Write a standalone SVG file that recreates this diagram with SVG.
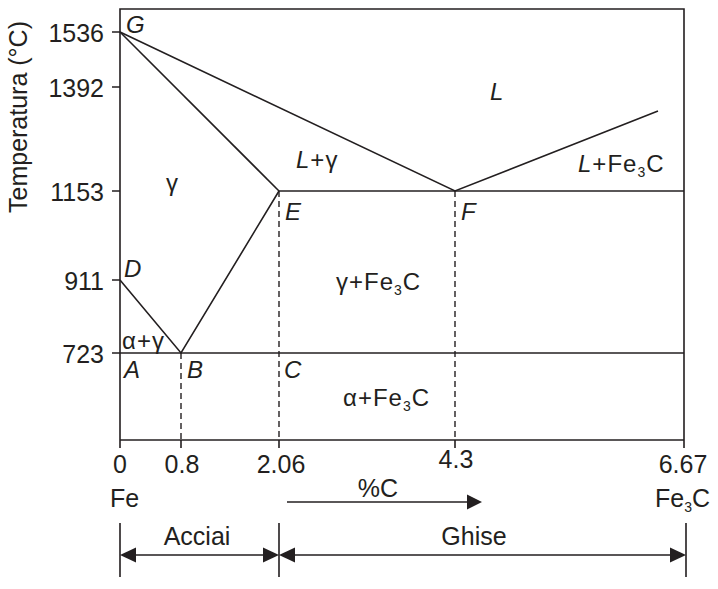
<svg xmlns="http://www.w3.org/2000/svg" width="718" height="589" viewBox="0 0 718 589">
<style>
.ln{stroke:#231f20;stroke-width:1.6;fill:none}
.ds{stroke:#231f20;stroke-width:1.4;fill:none;stroke-dasharray:6 4}
.t{font-family:"Liberation Sans",Arial,sans-serif;font-size:25px;fill:#231f20}
.r{font-family:"Liberation Sans",Arial,sans-serif;font-size:24px;fill:#231f20;letter-spacing:1px}
.i{font-style:italic}
.s{font-size:14px}
.ah{fill:#231f20}
</style>
<rect width="718" height="589" fill="#fff"/>
<g id="frame">
<path class="ln" d="M120,448 V9 H684 V448"/>
<path class="ln" d="M120,440 H684"/>
<path class="ln" d="M112,32 H120 M112,87 H120 M112,191 H120 M112,280 H120 M112,353 H120"/>
<path class="ln" d="M181,440 V448 M279,440 V448 M455,440 V448"/>
</g>
<g id="phase-lines">
<path class="ln" d="M120,32 L455,191 L658,111"/>
<path class="ln" d="M120,32 L279,191"/>
<path class="ln" d="M120,280 L181,353 L279,191"/>
<path class="ln" d="M279,191 H684"/>
<path class="ln" d="M120,353 H684"/>
<path class="ds" d="M181,353 V440 M279,191 V440 M455,191 V440"/>
</g>
<g id="y-axis">
<text class="t" x="18" y="117" text-anchor="middle" transform="rotate(-90 18 117)" dy="9" font-size="26">Temperatura (°C)</text>
<text class="t" x="104" y="42" text-anchor="end">1536</text>
<text class="t" x="104" y="97" text-anchor="end">1392</text>
<text class="t" x="104" y="201" text-anchor="end">1153</text>
<text class="t" x="104" y="290" text-anchor="end">911</text>
<text class="t" x="104" y="363" text-anchor="end">723</text>
</g>
<g id="x-axis">
<text class="t" x="120" y="473" text-anchor="middle">0</text>
<text class="t" x="182" y="473" text-anchor="middle">0.8</text>
<text class="t" x="281" y="473" text-anchor="middle">2.06</text>
<text class="t" x="456" y="468" text-anchor="middle">4.3</text>
<text class="t" x="683" y="473" text-anchor="middle">6.67</text>
<text class="t" x="110" y="507">Fe</text>
<text class="t" x="655" y="507">Fe<tspan class="s" dy="5">3</tspan><tspan dy="-5">C</tspan></text>
<text class="t" x="378" y="497" text-anchor="middle">%C</text>
</g>
<g id="points">
<text class="r i" x="126" y="33">G</text>
<text class="r i" x="285" y="220">E</text>
<text class="r i" x="461" y="220">F</text>
<text class="r i" x="124" y="277">D</text>
<text class="r i" x="124" y="378">A</text>
<text class="r i" x="187" y="378">B</text>
<text class="r i" x="284" y="378">C</text>
</g>
<g id="regions">
<text class="r i" x="490" y="100">L</text>
<text class="r" x="296" y="168"><tspan class="i">L</tspan>+γ</text>
<text class="r" x="166" y="191">γ</text>
<text class="r" x="578" y="172"><tspan class="i">L</tspan>+Fe<tspan class="s" dy="5">3</tspan><tspan dy="-5">C</tspan></text>
<text class="r" x="336" y="290">γ+Fe<tspan class="s" dy="5">3</tspan><tspan dy="-5">C</tspan></text>
<text class="r" x="343" y="406">α+Fe<tspan class="s" dy="5">3</tspan><tspan dy="-5">C</tspan></text>
<text class="r" x="122" y="349" font-size="23">α+γ</text>
</g>
<g id="connectors">
<path class="ln" d="M287,502 H468"/>
<path class="ah" d="M482,502 L467,494.5 L467,509.5 Z"/>
<path class="ln" d="M120,523 V577 M279,523 V577 M686,523 V577"/>
<path class="ln" d="M134,555 H265 M293,555 H672"/>
<path class="ah" d="M120,555 L136,547.5 L136,562.5 Z"/>
<path class="ah" d="M279,555 L263,547.5 L263,562.5 Z"/>
<path class="ah" d="M279,555 L295,547.5 L295,562.5 Z"/>
<path class="ah" d="M686,555 L670,547.5 L670,562.5 Z"/>
</g>
<g id="ranges">
<text class="t" x="197" y="545" text-anchor="middle">Acciai</text>
<text class="t" x="474" y="545" text-anchor="middle">Ghise</text>
</g>
</svg>
